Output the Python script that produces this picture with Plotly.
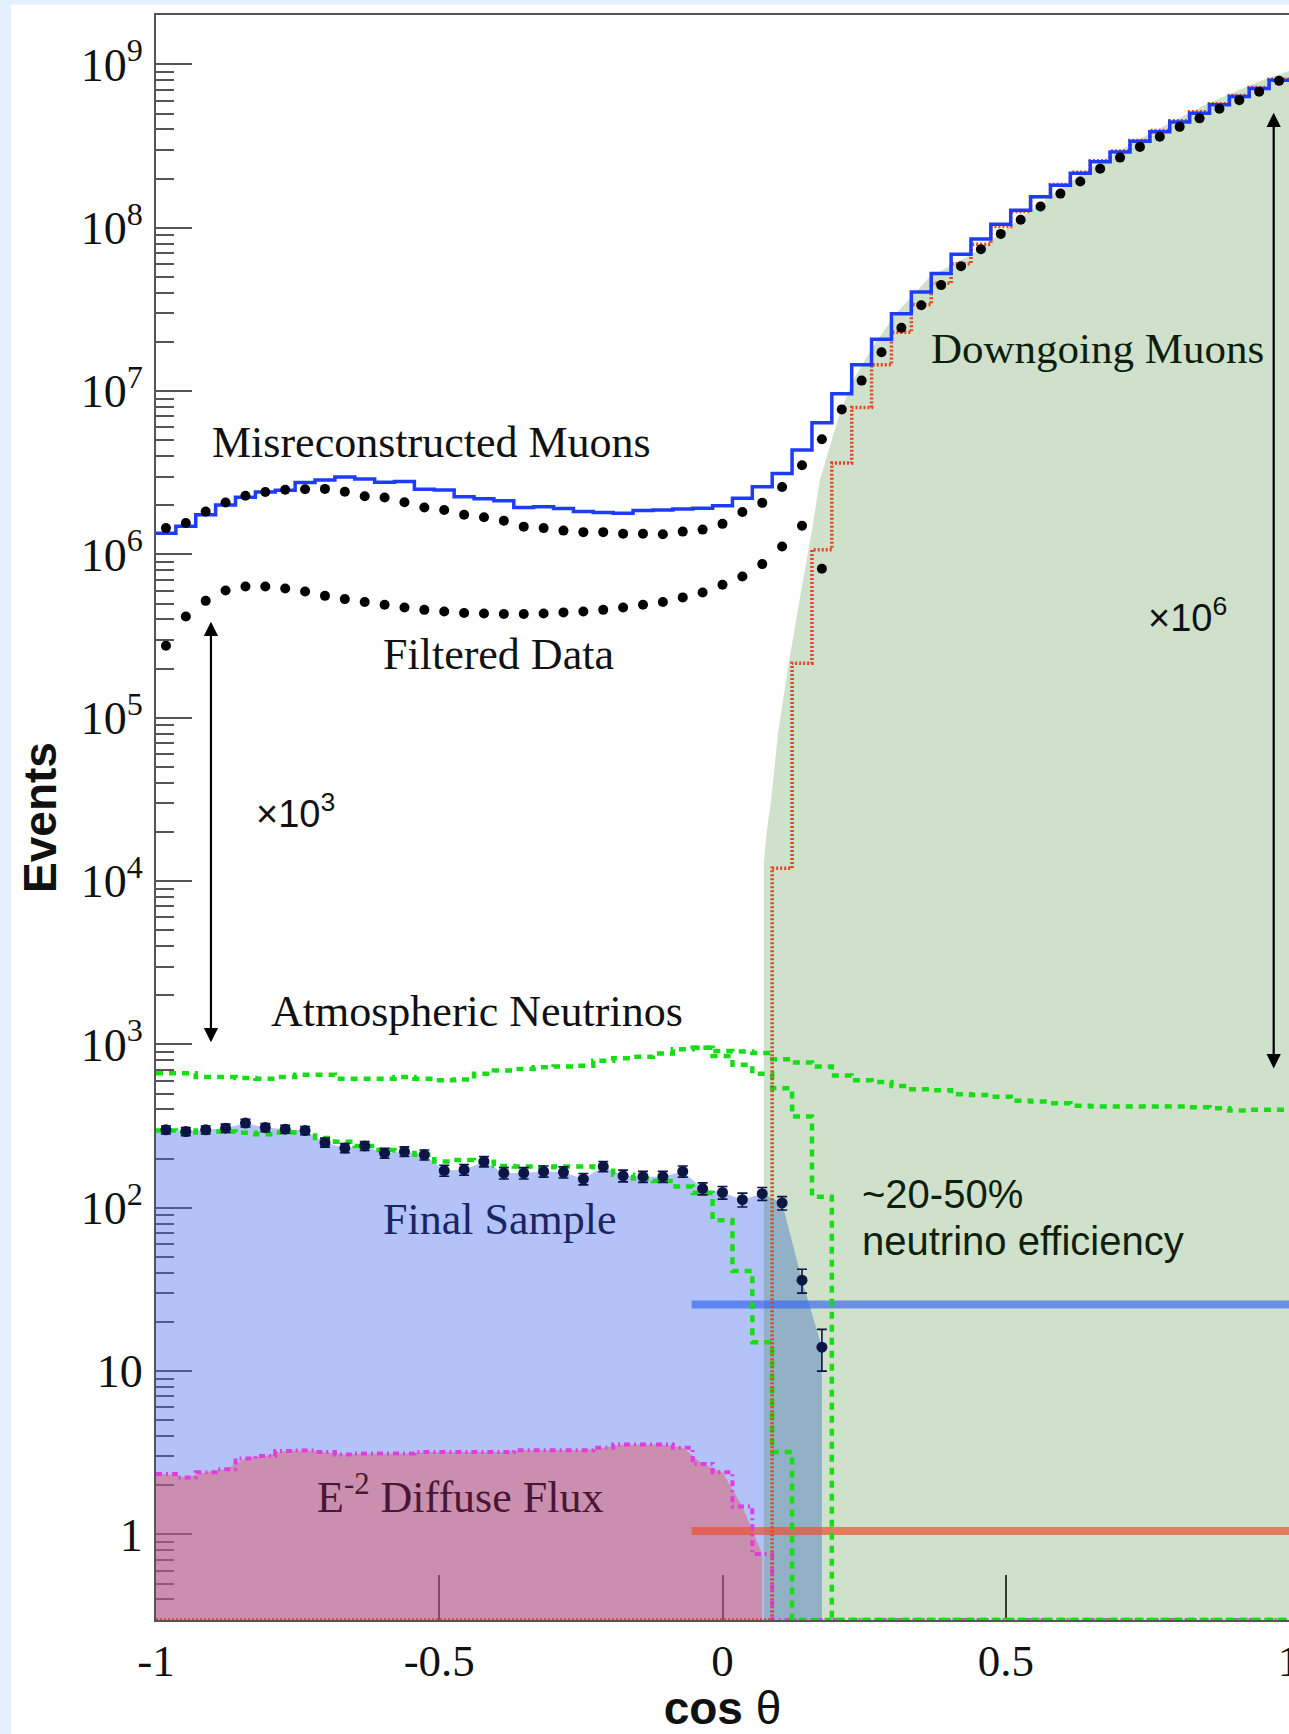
import numpy as np
import plotly.graph_objects as go

# ---------------------------------------------------------------- binning
N_BINS = 57
COS_MIN, COS_MAX = -1.0, 1.0
EDGES = np.linspace(COS_MIN, COS_MAX, N_BINS + 1)
CENTERS = 0.5 * (EDGES[:-1] + EDGES[1:])

# ------------------------------------------------ events per cos(theta) bin
# data, first filter level (upper black dots)
DATA_L1 = [1.45e6, 1.56e6, 1.83e6, 2.08e6, 2.29e6, 2.41e6, 2.49e6, 2.51e6, 2.52e6, 2.42e6,
           2.27e6, 2.23e6, 2.09e6, 1.94e6, 1.87e6, 1.75e6, 1.69e6, 1.61e6, 1.48e6, 1.45e6,
           1.40e6, 1.37e6, 1.37e6, 1.34e6, 1.34e6, 1.33e6, 1.38e6, 1.42e6, 1.54e6, 1.82e6,
           2.07e6, 2.59e6, 3.52e6, 5.08e6, 7.73e6, 1.16e7, 1.73e7, 2.44e7, 3.36e7, 4.46e7,
           5.81e7, 7.40e7, 9.18e7, 1.12e8, 1.35e8, 1.62e8, 1.92e8, 2.30e8, 2.69e8, 3.13e8,
           3.61e8, 4.15e8, 4.68e8, 5.36e8, 6.05e8, 6.82e8, 7.94e8]

# filtered data (lower black dots), first 34 bins
FILTERED_DATA = [2.76e5, 4.17e5, 5.20e5, 6.01e5, 6.37e5, 6.37e5, 6.19e5, 5.93e5, 5.58e5, 5.33e5,
                 5.12e5, 4.92e5, 4.74e5, 4.58e5, 4.48e5, 4.38e5, 4.35e5, 4.32e5, 4.32e5, 4.35e5,
                 4.42e5, 4.48e5, 4.58e5, 4.73e5, 4.92e5, 5.12e5, 5.46e5, 5.85e5, 6.53e5, 7.33e5,
                 8.73e5, 1.12e6, 1.50e6, 8.17e5]

# simulated muons, total (blue histogram)
MC_MUONS = [1.35e6, 1.49e6, 1.75e6, 2.01e6, 2.24e6, 2.41e6, 2.47e6, 2.76e6, 2.86e6, 2.98e6,
            2.90e6, 2.77e6, 2.80e6, 2.51e6, 2.48e6, 2.26e6, 2.19e6, 2.13e6, 1.94e6, 1.96e6,
            1.91e6, 1.83e6, 1.81e6, 1.79e6, 1.86e6, 1.87e6, 1.90e6, 1.92e6, 1.99e6, 2.21e6,
            2.60e6, 3.13e6, 4.36e6, 6.40e6, 9.64e6, 1.45e7, 2.08e7, 2.98e7, 4.05e7, 5.26e7,
            6.89e7, 8.55e7, 1.05e8, 1.28e8, 1.55e8, 1.82e8, 2.16e8, 2.54e8, 2.91e8, 3.39e8,
            3.87e8, 4.44e8, 5.02e8, 5.66e8, 6.37e8, 7.13e8, 8.02e8]

# simulated downgoing muons only (red dotted histogram)
MC_DOWNGOING = [0] * 31 + [1.20e4, 2.16e5, 1.07e6, 3.63e6, 7.94e6, 1.45e7, 2.29e7, 3.39e7,
                           4.57e7, 6.03e7, 7.94e7, 1.02e8, 1.26e8, 1.55e8, 1.84e8, 2.19e8,
                           2.57e8, 2.95e8, 3.43e8, 3.94e8, 4.52e8, 5.13e8, 5.75e8, 6.46e8,
                           7.24e8, 8.13e8]

# atmospheric neutrinos at filter level (upper green)
NU_FILTER = [667, 667, 631, 631, 624, 617, 631, 652, 652, 617,
             617, 617, 631, 617, 603, 610, 661, 692, 708, 724,
             733, 741, 794, 822, 841, 881, 933, 953, 912, 906,
             887, 813, 776, 733, 646, 603, 589, 556, 531, 525,
             495, 490, 479, 452, 447, 437, 422, 417, 417, 417,
             417, 417, 412, 407, 394, 398, 398]

# atmospheric neutrinos after the zenith cut (starts at bin 27)
NU_CUT_FIRST_BIN = 27
NU_CUT = [953, 851, 750, 661, 540, 362, 117] + [0] * 23

# atmospheric neutrinos in the final sample (lower green)
NU_FINAL = [297, 289, 297, 293, 288, 282, 289, 289, 267, 254,
            239, 226, 224, 211, 192, 196, 191, 180, 179, 177,
            179, 179, 177, 159, 151, 146, 135, 123, 84, 41,
            15, 3.2] + [0] * 25

# E^-2 diffuse flux signal (magenta)
DIFFUSE = [2.34, 2.23, 2.40, 2.51, 2.92, 3.02, 3.24, 3.26, 3.20, 3.09,
           3.13, 3.13, 3.13, 3.20, 3.20, 3.20, 3.20, 3.20, 3.28, 3.28,
           3.28, 3.28, 3.39, 3.55, 3.55, 3.55, 3.39, 2.70, 2.40, 1.48,
           0.76] + [0] * 26

# final sample data with statistical errors (first 34 bins)
FINAL_DATA = [300, 293, 300, 307, 330, 310, 303, 297, 251, 232,
              239, 216, 221, 211, 169, 171, 192, 163, 163, 167,
              165, 150, 179, 157, 155, 155, 167, 131, 124, 112,
              122, 107, 36, 14]
FINAL_ERR = [17, 17, 17, 18, 18, 18, 17, 17, 16, 15,
             15, 15, 15, 15, 13, 13, 14, 13, 13, 13,
             13, 12, 13, 13, 12, 12, 13, 11, 11, 11,
             11, 10, 6, 4]

# envelope of the downgoing muon region
MUON_BAND_COS = [0.073, 0.073, 0.078, 0.086, 0.098, 0.116, 0.136, 0.158, 0.172, 0.186, 0.207,
                 0.231, 0.266, 0.307, 0.366, 0.45, 0.55, 0.65, 0.75, 0.85, 0.95, 1.0, 1.0]
MUON_BAND_EVENTS = [0, 1.26e4, 2.0e4, 3.16e4, 8.05e4, 2.06e5, 5.25e5, 1.41e6, 2.86e6, 4.17e6,
                    7.35e6, 1.17e7, 1.88e7, 3.01e7, 5.01e7, 7.2e7, 1.32e8, 2.34e8, 3.72e8,
                    5.62e8, 7.94e8, 9.12e8, 0]

# final-level reference lines
LEVEL_COS = [-0.0545, 1.0]
LEVEL_NEUTRINO = 25.6
LEVEL_SIGNAL = 1.05

# axis ticks
X_TICKS = [-1, -0.5, 0, 0.5, 1]
X_TICK_TEXT = ["-1", "-0.5", "0", "0.5", "1"]
Y_TICKS = [1, 10, 1e2, 1e3, 1e4, 1e5, 1e6, 1e7, 1e8, 1e9]
Y_TICK_TEXT = ["1", "10"] + ["10<sup>%d</sup>" % p for p in range(2, 10)]

# ---------------------------------------------------------------- layout
W, H = 1289, 1734
M_L, M_R, M_T, M_B = 156, 0, 15, 114
PW, PH = W - M_L - M_R, H - M_T - M_B
Y_LOG_RANGE = [-0.524, 9.303]
EMPTY_LEVEL = 10 ** Y_LOG_RANGE[0]      # empty bins sit on the bottom axis
FILL_BASE = 0.05                        # below the visible range

SERIF = "Liberation Serif"
SANS = "Liberation Sans"


def step_xy(values, first_bin=0):
    v = [EMPTY_LEVEL if val == 0 else val for val in values]
    x = list(EDGES[first_bin:first_bin + len(v) + 1])
    return x, v + [v[-1]]


def band_xy(values):
    """Polyline through bin centres, closed down to the base line."""
    n = len(values)
    x = [COS_MIN, COS_MIN] + list(CENTERS[:n]) + [CENTERS[n - 1]]
    y = [FILL_BASE, values[0]] + list(values) + [FILL_BASE]
    return x, y


fig = go.Figure()

# shaded regions
bx, by = band_xy(FINAL_DATA)
fig.add_trace(go.Scatter(x=bx, y=by, mode="lines", fill="toself",
                         fillcolor="rgba(65,105,242,0.40)", line=dict(width=0),
                         hoverinfo="skip"))
dvals = [v for v in DIFFUSE if v > 0]
dx, dy = band_xy(dvals)
fig.add_trace(go.Scatter(x=dx, y=dy, mode="lines", fill="toself",
                         fillcolor="rgba(230,80,85,0.45)", line=dict(width=0),
                         hoverinfo="skip"))
fig.add_trace(go.Scatter(x=MUON_BAND_COS,
                         y=[FILL_BASE if v == 0 else v for v in MUON_BAND_EVENTS],
                         mode="lines", fill="toself",
                         fillcolor="rgba(26,112,7,0.21)", line=dict(width=0),
                         hoverinfo="skip"))

# final-level reference lines
fig.add_trace(go.Scatter(x=LEVEL_COS, y=[LEVEL_NEUTRINO] * 2, mode="lines",
                         line=dict(color="rgba(50,100,240,0.65)", width=8)))
fig.add_trace(go.Scatter(x=LEVEL_COS, y=[LEVEL_SIGNAL] * 2, mode="lines",
                         line=dict(color="rgba(235,80,50,0.70)", width=8)))

# histograms
x, y = step_xy(DIFFUSE)
fig.add_trace(go.Scatter(x=x, y=y, mode="lines", line_shape="hv",
                         line=dict(color="#E03CE0", width=4, dash="6px,4px,2px,4px")))
GREEN = "#16DD16"
for vals, first in ((NU_FILTER, 0), (NU_CUT, NU_CUT_FIRST_BIN), (NU_FINAL, 0)):
    x, y = step_xy(vals, first)
    fig.add_trace(go.Scatter(x=x, y=y, mode="lines", line_shape="hv",
                             line=dict(color=GREEN, width=4.5, dash="7px,6px")))
x, y = step_xy(MC_DOWNGOING)
fig.add_trace(go.Scatter(x=x, y=y, mode="lines", line_shape="hv",
                         line=dict(color="#E4441E", width=3.5, dash="2px,2px")))
x, y = step_xy(MC_MUONS)
fig.add_trace(go.Scatter(x=x, y=y, mode="lines", line_shape="hv",
                         line=dict(color="#1E3CFF", width=3.5)))

# data points
fig.add_trace(go.Scatter(x=CENTERS, y=DATA_L1, mode="markers",
                         marker=dict(color="black", size=10)))
fig.add_trace(go.Scatter(x=CENTERS[:len(FILTERED_DATA)], y=FILTERED_DATA, mode="markers",
                         marker=dict(color="black", size=10)))
fig.add_trace(go.Scatter(x=CENTERS[:len(FINAL_DATA)], y=FINAL_DATA, mode="markers",
                         marker=dict(color="#0B1645", size=11),
                         error_y=dict(type="data", array=FINAL_ERR, color="#0B1645",
                                      thickness=1.6, width=5)))


def label(text, x, ylog, size=44, color="#111111", family=SERIF, xanchor="center"):
    return dict(text=text, x=x, y=ylog, xref="x", yref="y", showarrow=False,
                xanchor=xanchor, yanchor="middle",
                font=dict(family=family, size=size, color=color))


annotations = [
    label("Misreconstructed Muons", -0.5135, 6.687),
    label("Filtered Data", -0.395, 5.389),
    label("Downgoing Muons", 0.662, 7.262, size=43, color="#0E1E0E"),
    label("Atmospheric Neutrinos", -0.4325, 3.203, size=44),
    label("Final Sample", -0.394, 1.931, color="#1A2562"),
    label("E<sup>-2</sup> Diffuse Flux", -0.4634, 0.245, color="#4A1634"),
    label("~20-50%", 0.242, 2.084, size=40, color="#0F1F0F", family=SANS, xanchor="left"),
    label("neutrino efficiency", 0.242, 1.797, size=40, color="#0F1F0F", family=SANS,
          xanchor="left"),
    label("×10<sup>3</sup>", -0.753, 4.43, size=38, color="#111111", family=SANS),
    label("×10<sup>6</sup>", 0.820, 5.63, size=38, color="#111111", family=SANS),
]
for xa, y_top, y_bot in ((-0.903, 5.588, 3.004), (0.973, 8.705, 2.844)):
    annotations.append(dict(text="", x=xa, y=y_top, ax=xa, ay=y_bot,
                            xref="x", yref="y", axref="x", ayref="y",
                            showarrow=True, arrowside="end+start", arrowhead=2,
                            arrowsize=1.3, arrowwidth=2.2, arrowcolor="black"))


def px_x(px):
    return (px - M_L) / PW


def px_y(py):
    return (H - M_B - py) / PH


panel_bg = "#E4F1FC"
shapes = [
    dict(type="rect", xref="paper", yref="paper", x0=px_x(0), x1=px_x(11),
         y0=px_y(H), y1=px_y(0), fillcolor=panel_bg, line=dict(width=0), layer="below"),
    dict(type="rect", xref="paper", yref="paper", x0=px_x(0), x1=px_x(W),
         y0=px_y(4.5), y1=px_y(0), fillcolor=panel_bg, line=dict(width=0), layer="below"),
]

minor_vals = [m * 10.0 ** e for e in range(-1, 10) for m in range(2, 10)]

fig.update_layout(
    width=W, height=H, autosize=False,
    margin=dict(l=M_L, r=M_R, t=M_T, b=M_B, pad=0, autoexpand=False),
    paper_bgcolor="white", plot_bgcolor="rgba(0,0,0,0)",
    showlegend=False, hovermode=False,
    annotations=annotations, shapes=shapes,
    xaxis=dict(
        range=[COS_MIN, COS_MAX], tickmode="array", tickvals=X_TICKS, ticktext=X_TICK_TEXT,
        ticks="inside", ticklen=45, tickwidth=2, tickcolor="#333333",
        showline=True, linecolor="#555555", linewidth=2, mirror=True,
        showgrid=False, zeroline=False, layer="below traces", automargin=False,
        tickfont=dict(family=SERIF, size=45, color="#111111"), ticklabelstandoff=0,
        ticklabeloverflow="allow",
        title=dict(text="<b>cos</b> θ", font=dict(family=SANS, size=46, color="#111111"),
                   standoff=22),
    ),
    yaxis=dict(
        type="log", range=Y_LOG_RANGE, tickmode="array", tickvals=Y_TICKS,
        ticktext=Y_TICK_TEXT, ticks="inside", ticklen=36, tickwidth=2, tickcolor="#555555",
        minor=dict(tickmode="array", tickvals=minor_vals, ticks="inside", ticklen=18,
                   tickwidth=2, tickcolor="#555555"),
        showline=True, linecolor="#555555", linewidth=2, mirror=True,
        showgrid=False, zeroline=False, layer="below traces", automargin=False,
        tickfont=dict(family=SERIF, size=46, color="#111111"), ticklabelstandoff=2,
        title=dict(text="<b>Events</b>", font=dict(family=SANS, size=46, color="#111111"),
                   standoff=10),
    ),
)

fig.write_html("out.html")
